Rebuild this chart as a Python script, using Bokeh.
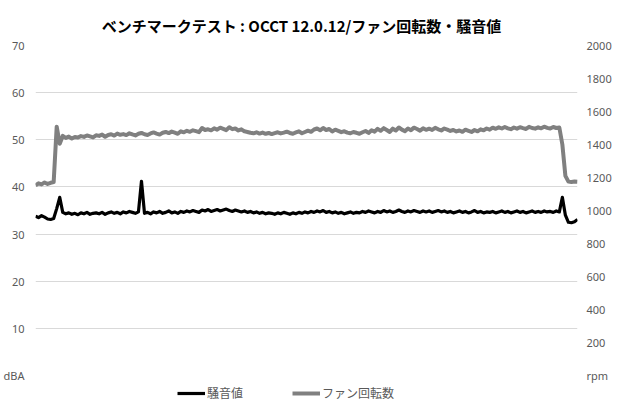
from bokeh.plotting import figure
from bokeh.models import Range1d, LinearAxis, FixedTicker, Legend, LegendItem, Label
from bokeh.embed import file_html
from bokeh.resources import INLINE

# ---- data ----
title_text = "ベンチマークテスト : OCCT 12.0.12/ファン回転数・騒音値"
series_names = ["騒音値", "ファン回転数"]
left_ticks = [0, 10, 20, 30, 40, 50, 60, 70]
right_ticks = [0, 200, 400, 600, 800, 1000, 1200, 1400, 1600, 1800, 2000]
left_unit = "dBA"
right_unit = "rpm"

fan_rpm = [
    1152, 1165, 1158, 1170, 1161, 1168, 1172, 1508, 1405, 1452,
    1440, 1448, 1436, 1445, 1442, 1451, 1446, 1455, 1449, 1443,
    1456, 1452, 1460, 1447, 1458, 1462, 1454, 1466, 1459, 1463,
    1457, 1468, 1461, 1455, 1465, 1470, 1462, 1458, 1467, 1473,
    1466, 1460, 1471, 1476, 1469, 1478, 1472, 1465, 1480, 1474,
    1483, 1477, 1486, 1481, 1475, 1500, 1488, 1492, 1486, 1498,
    1490, 1502, 1495, 1487, 1504, 1493, 1497, 1485, 1492, 1480,
    1476, 1471, 1468, 1474, 1466, 1472, 1465, 1470, 1463, 1469,
    1474, 1467, 1472, 1478, 1470, 1465, 1473, 1480, 1468, 1476,
    1484, 1477, 1491, 1497, 1486, 1500, 1488, 1494, 1479, 1490,
    1483, 1475, 1480, 1472, 1468, 1476, 1471, 1465, 1474, 1482,
    1470, 1486, 1478, 1495, 1483, 1499, 1488, 1476, 1496, 1485,
    1503, 1490, 1481, 1497, 1487, 1502, 1494, 1484, 1498, 1489,
    1496, 1488, 1501, 1492, 1485, 1497, 1490, 1482, 1488, 1479,
    1485, 1477, 1490, 1483, 1476, 1488, 1480, 1492, 1486, 1497,
    1490, 1502, 1495, 1504, 1497, 1506, 1498, 1493, 1503, 1496,
    1505, 1499, 1494, 1507, 1500, 1496, 1504, 1498, 1508, 1501,
    1497, 1506, 1500, 1503, 1400, 1210, 1175, 1173, 1176, 1174,
]

noise_dba = [
    33.8, 33.5, 33.9, 33.6, 33.2, 33.1, 33.3, 35.4, 37.8, 34.6,
    34.3, 34.5, 34.2, 34.4, 34.1, 34.5, 34.3, 34.6, 34.2, 34.4,
    34.5, 34.3, 34.6, 34.2, 34.5, 34.7, 34.4, 34.6, 34.3, 34.7,
    34.5, 34.8, 34.6, 34.4, 34.7, 41.2, 34.4, 34.6, 34.3, 34.7,
    34.5, 34.8, 34.4, 34.6, 34.9, 34.5, 34.7, 34.4, 34.8, 34.6,
    34.9, 34.7, 35.0, 34.8, 34.6, 35.1, 34.9, 35.2, 34.8, 35.0,
    35.2, 34.9, 35.1, 35.3, 35.0, 34.8, 35.1, 34.9, 34.7, 34.9,
    34.6, 34.8, 34.5, 34.7, 34.4, 34.6, 34.3, 34.5, 34.4, 34.2,
    34.5, 34.3, 34.6, 34.4, 34.2, 34.5, 34.3, 34.6, 34.4, 34.7,
    34.5, 34.8, 34.6, 34.9, 34.7, 35.0, 34.6, 34.8, 34.5, 34.7,
    34.4, 34.6, 34.3, 34.5, 34.7, 34.4, 34.6, 34.5, 34.8, 34.6,
    34.9, 34.7, 34.5, 34.8, 34.6, 35.0, 34.7, 34.9, 34.6, 34.8,
    35.1, 34.8, 34.6, 34.9, 34.7, 35.0, 34.8, 34.6, 34.9, 34.7,
    34.9, 34.6, 34.8, 35.0, 34.7, 34.9, 34.6, 34.8, 34.5, 34.7,
    34.9, 34.6, 34.8, 34.5, 34.7, 35.0, 34.6, 34.8, 34.5, 34.7,
    34.6, 34.8, 34.5, 34.7, 34.9, 34.6, 34.8, 34.5, 34.7, 34.9,
    34.6, 34.8, 34.5, 34.7, 34.9, 34.6, 34.8, 34.6, 34.9, 34.7,
    34.8, 34.6, 34.9, 34.7, 37.8, 34.0, 32.5, 32.4, 32.6, 33.1,
]

time_idx = list(range(len(noise_dba)))

# ---- layout (pixels) ----
FIG_W, FIG_H = 614, 401
PLOT_TOP, PLOT_BOTTOM = 45, 375          # plot area inside the frame
BORDER_L, BORDER_R = 34, 32
TICK_FONT = "Noto Sans"
CJK_FONT = "Noto Sans CJK JP"
LABEL_COLOR = "#595959"

span_px = PLOT_BOTTOM - PLOT_TOP


def padded(lo, hi):
    k = (hi - lo) / span_px
    return Range1d(lo - (FIG_H - PLOT_BOTTOM) * k, hi + PLOT_TOP * k)


p = figure(width=FIG_W, height=FIG_H, output_backend="svg", toolbar_location=None,
           x_range=Range1d(time_idx[0], time_idx[-1]),
           y_range=padded(left_ticks[0], left_ticks[-1]),
           min_border_left=BORDER_L, min_border_right=BORDER_R,
           min_border_top=0, min_border_bottom=0)
p.extra_y_ranges = {"rpm": padded(right_ticks[0], right_ticks[-1])}
p.outline_line_color = None
p.background_fill_color = "white"
p.border_fill_color = "white"
p.xaxis.visible = False
p.xgrid.visible = False
p.ygrid.ticker = FixedTicker(ticks=left_ticks[1:-1])
p.ygrid.grid_line_color = "#d9d9d9"
p.ygrid.grid_line_width = 1


def style_axis(ax, ticks, unit, standoff):
    ax.ticker = FixedTicker(ticks=ticks)
    ax.major_label_overrides = {ticks[0]: unit}
    ax.axis_line_color = None
    ax.major_tick_line_color = None
    ax.minor_tick_line_color = None
    ax.major_tick_out = 0
    ax.major_tick_in = 0
    ax.minor_tick_out = 0
    ax.major_label_text_color = LABEL_COLOR
    ax.major_label_text_font = TICK_FONT
    ax.major_label_text_font_size = "11px"
    ax.major_label_standoff = standoff


style_axis(p.yaxis[0], left_ticks, left_unit, 11)
right_axis = LinearAxis(y_range_name="rpm")
style_axis(right_axis, right_ticks, right_unit, 9)
p.add_layout(right_axis, "right")

r_fan = p.line(time_idx, fan_rpm, y_range_name="rpm", line_color="#808080",
               line_width=4, line_join="round")
r_noise = p.line(time_idx, noise_dba, line_color="black", line_width=3.2,
                 line_join="round")

legend = Legend(items=[LegendItem(label=series_names[0], renderers=[r_noise]),
                       LegendItem(label=series_names[1], renderers=[r_fan])],
                orientation="horizontal", location=(142, 0),
                glyph_width=28, glyph_height=14, label_height=14,
                label_standoff=2, spacing=49,
                padding=0, margin=0, border_line_color=None,
                background_fill_alpha=0,
                label_text_font=CJK_FONT, label_text_font_size="12px",
                label_text_color=LABEL_COLOR)
p.add_layout(legend)

title = Label(x=266, y=FIG_H - 25, x_units="screen", y_units="screen", text=title_text,
              text_font=CJK_FONT, text_font_size="15px", text_font_style="bold",
              text_color="black", text_align="center", text_baseline="middle")
p.add_layout(title)

open("out.html", "w").write(file_html(p, INLINE))
